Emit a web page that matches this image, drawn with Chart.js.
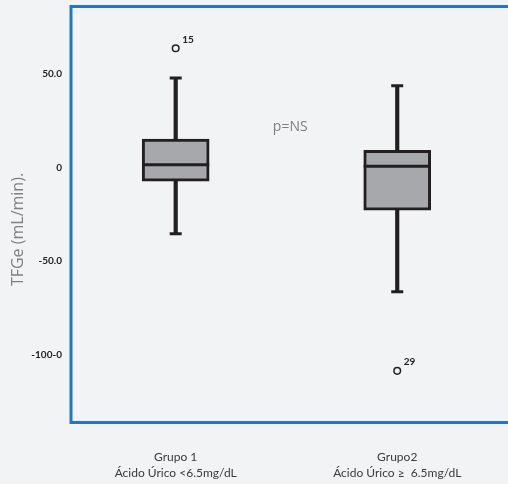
<!DOCTYPE html>
<html>
<head>
<meta charset="utf-8">
<script src="https://cdn.jsdelivr.net/npm/chart.js@4.4.1/dist/chart.umd.min.js"></script>
<style>
  html, body { margin: 0; padding: 0; background: #f2f3f5; }
  #wrap { width: 508px; height: 484px; }
</style>
</head>
<body>
<div id="wrap"><canvas id="c" width="508" height="484"></canvas></div>
<script>
// ---- data ----
const groups = ['Grupo 1', 'Grupo2'];
const groupNotes = ['Ácido Úrico <6.5mg/dL', 'Ácido Úrico \u2265  6.5mg/dL'];
const groupX = [1, 2];
const whiskerLow = [-35.4, -66.4];
const q1 = [-7.3, -22.8];
const medians = [1.4, 0.6];
const q3 = [15.2, 9.1];
const whiskerHigh = [47.8, 43.7];
const outlierValues = [63.7, -108.7];
const outlierIds = ['15', '29'];
const yTicks = [50, 0, -50, -100];
const yTickLabels = ['50.0', '0', '-50.0', '-100-0'];
const yTitle = 'TFGe (mL/min).';
const pNote = 'p=NS';

const BG = '#f2f3f5';
const INK = '#231f20';
const BLUE = '#1f77c8';

const boxData = groupX.map((x, i) => ({ x, y: [q1[i], q3[i]] }));
const upperWhisker = groupX.map((x, i) => ({ x, y: [q3[i], whiskerHigh[i]] }));
const lowerWhisker = groupX.map((x, i) => ({ x, y: [whiskerLow[i], q1[i]] }));
const medianData = groupX.map((x, i) => ({ x, y: medians[i] }));
const capData = groupX.flatMap((x, i) => [{ x, y: whiskerHigh[i] }, { x, y: whiskerLow[i] }]);
const outlierData = groupX.map((x, i) => ({ x, y: outlierValues[i] }));

const decor = {
  id: 'decor',
  beforeDraw(chart) {
    const ctx = chart.ctx;
    ctx.save();
    ctx.fillStyle = BG;
    ctx.fillRect(0, 0, chart.width, chart.height);
    ctx.restore();
  },
  afterDraw(chart) {
    const ctx = chart.ctx;
    const a = chart.chartArea;
    const xs = chart.scales.x, ys = chart.scales.y;
    ctx.save();
    // frame (left, top, bottom)
    ctx.strokeStyle = BLUE;
    ctx.lineWidth = 3;
    ctx.beginPath();
    ctx.moveTo(chart.width, a.top + 0.5);
    ctx.lineTo(a.left + 1, a.top + 0.5);
    ctx.lineTo(a.left + 1, a.bottom);
    ctx.lineTo(chart.width, a.bottom);
    ctx.stroke();

    // outlier ids
    ctx.fillStyle = '#222';
    ctx.font = 'bold 10px Lato';
    ctx.textAlign = 'left';
    ctx.textBaseline = 'alphabetic';
    outlierData.forEach((p, i) => {
      const px = xs.getPixelForValue(p.x), py = ys.getPixelForValue(p.y);
      ctx.fillText(outlierIds[i], px + 6.5, py - 5.5);
    });

    // p note
    ctx.fillStyle = '#7f7f7f';
    ctx.font = '14px "Open Sans"';
    ctx.textAlign = 'center';
    ctx.textBaseline = 'middle';
    ctx.fillText(pNote, xs.getPixelForValue(1.517), ys.getPixelForValue(21.4));

    // y title
    ctx.translate(18, 229.5);
    ctx.rotate(-Math.PI / 2);
    ctx.fillStyle = '#808080';
    ctx.font = '16px "Open Sans"';
    ctx.textAlign = 'center';
    ctx.textBaseline = 'middle';
    ctx.fillText(yTitle, 0, 0);
    ctx.restore();
  }
};

new Chart(document.getElementById('c'), {
  type: 'bar',
  data: {
    datasets: [
      { type: 'scatter', data: medianData, pointStyle: 'line', pointRadius: 33.5, borderWidth: 3,
        borderColor: INK, backgroundColor: INK, order: 0 },
      { type: 'scatter', data: capData, pointStyle: 'line', pointRadius: 6, borderWidth: 3,
        borderColor: INK, backgroundColor: INK, order: 1 },
      { type: 'scatter', data: outlierData, pointStyle: 'circle', pointRadius: 3.3, borderWidth: 1.5,
        borderColor: INK, backgroundColor: BG, order: 1 },
      { type: 'bar', data: boxData, backgroundColor: '#a7a8ab', borderColor: INK, borderWidth: 3,
        borderSkipped: false, barThickness: 67, grouped: false, order: 2 },
      { type: 'bar', data: upperWhisker, backgroundColor: INK, borderWidth: 0,
        barThickness: 3.5, grouped: false, order: 3 },
      { type: 'bar', data: lowerWhisker, backgroundColor: INK, borderWidth: 0,
        barThickness: 3.5, grouped: false, order: 3 }
    ]
  },
  options: {
    responsive: false,
    animation: false,
    events: [],
    layout: { autoPadding: false, padding: { top: 6, left: 0, right: 0, bottom: 0 } },
    plugins: { legend: { display: false }, tooltip: { enabled: false } },
    scales: {
      x: {
        type: 'linear',
        offset: false,
        min: 0.523, max: 2.5,
        bounds: 'data',
        grid: { display: false, drawTicks: false, tickLength: 0, offset: false },
        border: { display: false },
        afterBuildTicks: s => { s.ticks = groupX.map(v => ({ value: v })); },
        afterFit: s => { s.height = 61.5; s.paddingLeft = 0; s.paddingRight = 0; },
        ticks: {
          autoSkip: false, maxRotation: 0, minRotation: 0,
          padding: 27,
          color: '#3a3a3a',
          font: { family: 'Lato', size: 12, lineHeight: 1.3 },
          callback: v => { const i = groupX.indexOf(v); return i < 0 ? '' : [groups[i], groupNotes[i]]; }
        }
      },
      y: {
        type: 'linear',
        min: -136.3, max: 86.3,
        bounds: 'data',
        grid: { display: false, drawTicks: false, tickLength: 0 },
        border: { display: false },
        afterBuildTicks: s => { s.ticks = yTicks.map(v => ({ value: v })); },
        afterFit: s => { s.width = 70; s.paddingTop = 0; s.paddingBottom = 0; },
        ticks: {
          padding: 8,
          color: '#222',
          font: { family: 'Lato', size: 10, weight: 'bold' },
          callback: v => { const i = yTicks.indexOf(v); return i < 0 ? '' : yTickLabels[i]; }
        }
      }
    }
  },
  plugins: [decor]
});
</script>
</body>
</html>
